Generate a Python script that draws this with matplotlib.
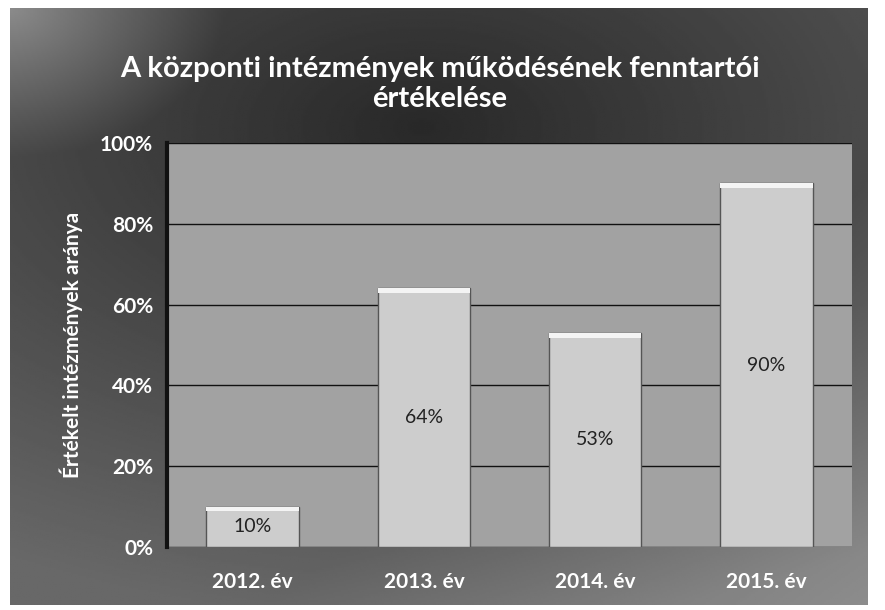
import numpy as np
import matplotlib
matplotlib.use('Agg')
import matplotlib.pyplot as plt
from matplotlib.ticker import PercentFormatter

plt.rcParams['font.family'] = ['Lato', 'DejaVu Sans']

# --- Data ---
years = ["2012. év", "2013. év", "2014. év", "2015. év"]
shares = [10, 64, 53, 90]
labels = ["10%", "64%", "53%", "90%"]

title = "A központi intézmények működésének fenntartói\nértékelése"
ylabel = "Értékelt intézmények aránya"

fig = plt.figure(figsize=(8.85, 6.1), dpi=100, facecolor="white")

# dark gradient backdrop of the chart frame
bg = fig.add_axes([10 / 885, 5 / 610, 858 / 885, 597 / 610])
yy, xx = np.mgrid[0:1:300j, 0:1:400j]
shade = 0.16 + 0.25 * np.clip(np.hypot(xx - 0.48, (yy - 0.2) * 1.2), 0, 1)
shade += 0.20 * np.clip(xx + yy - 1.3, 0, 1)
shade += 0.25 * np.clip(0.25 - np.hypot(xx, yy), 0, 1) * 4
bg.imshow(shade, cmap="gray", vmin=0, vmax=1, aspect="auto", origin="upper",
          extent=(0, 1, 0, 1))
bg.set_axis_off()

ax = fig.add_axes([167 / 885, 63 / 610, 685 / 885, 404 / 610])
ax.set_facecolor("#a2a2a2")
x = np.arange(len(years))
ax.bar(x, shares, width=0.54, color="#cdcdcd", edgecolor="#555555",
       linewidth=1.0, zorder=3)
# light top rim on each bar
ax.bar(x, [1.2] * len(x), bottom=[s - 1.2 for s in shares], width=0.54,
       color="#f4f4f4", linewidth=0, zorder=4)

for xi, s, lab in zip(x, shares, labels):
    ax.text(xi, s / 2, lab, ha="center", va="center", fontsize=14,
            color="#222222", zorder=5)

ax.set_ylim(0, 100)
ax.set_xlim(-0.5, len(years) - 0.5)
ax.set_yticks([0, 20, 40, 60, 80, 100])
ax.yaxis.set_major_formatter(PercentFormatter(decimals=0))
ax.grid(axis="y", color="#111111", linewidth=1.0, zorder=1)
ax.set_xticks(x)
ax.set_xticklabels(years)
ax.tick_params(length=0, colors="white", labelsize=15, pad=10)
for t in ax.get_xticklabels() + ax.get_yticklabels():
    t.set_fontweight("bold")
ax.tick_params(axis="x", pad=18)
for sp in ax.spines.values():
    sp.set_visible(False)
ax.spines["left"].set_visible(True)
ax.spines["left"].set_color("#111111")
ax.spines["left"].set_linewidth(3)

ax.set_ylabel(ylabel, color="white", fontsize=15, fontweight="bold", labelpad=12)

fig.text(0.497, 0.862, title, ha="center", va="center", color="white",
         fontsize=21, fontweight="bold", linespacing=1.2)

fig.savefig("out.png", dpi=100, facecolor=fig.get_facecolor())
